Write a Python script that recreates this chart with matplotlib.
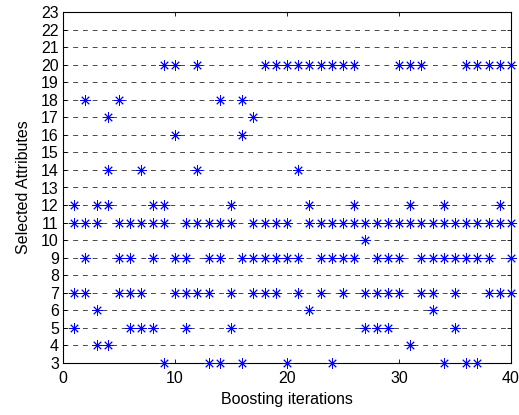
import matplotlib
matplotlib.use("Agg")
import matplotlib.pyplot as plt

plt.rcParams['font.family'] = ['Liberation Sans', 'DejaVu Sans']

# iterations selecting each attribute
attr_iters = {
    3:  [9, 13, 14, 16, 20, 24, 34, 36, 37],
    4:  [3, 4, 31],
    5:  [1, 6, 7, 8, 11, 15, 27, 28, 29, 35],
    6:  [3, 22, 33],
    7:  [1, 2, 5, 6, 7, 10, 11, 12, 13, 15, 17, 18, 19, 21, 23, 25, 27, 28, 29, 30,
         32, 33, 35, 38, 39, 40],
    9:  [2, 5, 6, 8, 10, 11, 13, 14, 16, 17, 18, 19, 20, 21, 23, 24, 25, 26, 28, 29,
         30, 32, 33, 34, 35, 36, 37, 38, 40],
    10: [27],
    11: [1, 2, 3, 5, 6, 7, 8, 9, 11, 12, 13, 14, 15, 17, 18, 19, 20, 22, 23, 24, 25,
         26, 27, 28, 29, 30, 31, 32, 33, 34, 35, 36, 37, 38, 39, 40],
    12: [1, 3, 4, 8, 9, 15, 22, 26, 31, 34, 39],
    14: [4, 7, 12, 21],
    16: [10, 16],
    17: [4, 17],
    18: [2, 5, 14, 16],
    20: [9, 10, 12, 18, 19, 20, 21, 22, 23, 24, 25, 26, 30, 31, 32, 36, 37, 38, 39, 40],
}
x_ticks = [0, 10, 20, 30, 40]
y_ticks = list(range(3, 24))

iters = []
attrs = []
for a, its in attr_iters.items():
    for it in its:
        iters.append(it)
        attrs.append(a)

fig = plt.figure(figsize=(5.19, 4.15), dpi=100)
ax = fig.add_axes([63/519, 1-363/415, 448/519, 351/415])

for yv in y_ticks[1:-1]:
    ax.axhline(yv, color='black', lw=0.5, linestyle=(0, (7, 7)), zorder=1)

ax.plot(iters, attrs, linestyle='none', marker=(8, 2, 0), color='#0000ff',
        markersize=7.5, markeredgewidth=0.65, zorder=3, clip_on=False)

ax.set_xlim(0, 40)
ax.set_ylim(3, 23)
ax.set_xticks(x_ticks)
ax.set_yticks(y_ticks)
ax.tick_params(direction='in', top=True, right=True, length=3, width=0.6,
               labelsize=11.5)
ax.tick_params(axis='x', pad=6)
ax.tick_params(axis='y', pad=3)
for s in ax.spines.values():
    s.set_linewidth(0.8)
ax.set_xlabel('Boosting iterations', fontsize=11.5, labelpad=4)
ax.set_ylabel('Selected Attributes', fontsize=11.5, labelpad=7)

fig.savefig('out.png', dpi=100)
